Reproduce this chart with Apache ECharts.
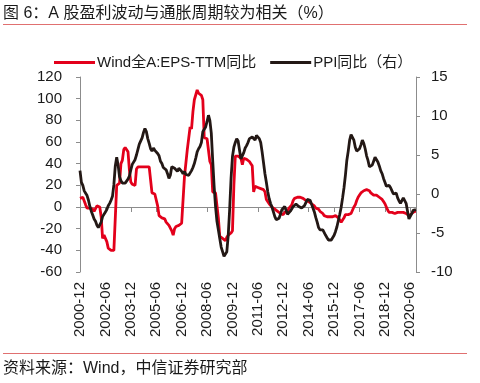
<!DOCTYPE html>
<html>
<head>
<meta charset="utf-8">
<script src="https://cdn.jsdelivr.net/npm/echarts@6/dist/echarts.min.js"></script>
<style>
html,body{margin:0;padding:0;background:#fff;}
#c{width:480px;height:383px;}
</style>
</head>
<body>
<div id="c"></div>
<script>
// Month categories: 2000-12 .. 2020-10
var startYear = 2000, startMonth = 12, monthCount = 239;
var months = [];
for (var k = 0; k < monthCount; k++) {
  var m = startMonth - 1 + k;
  var y = startYear + Math.floor(m / 12);
  var mm = (m % 12) + 1;
  months.push(y + '-' + (mm < 10 ? '0' + mm : '' + mm));
}

var seriesNames = ['Wind全A:EPS-TTM同比', 'PPI同比（右）'];

// Wind全A EPS-TTM 同比 (%), left axis
var epsYoY = [
  8, 8, 9, 10, 2, -1, -1, -1, -2, -2, -4, -4,
  1, 1, 0, -9, -29, -26, -26, -32, -38, -39, -40, -40,
  -40, -39, 20, 21, 22, 40, 43, 53, 55, 54, 51, 34,
  23, 21, 20, 20, 35, 37, 36, 37, 36, 37, 37, 37,
  36, 37, 37, 13, 12, 12, 11, 1, -8, -9, -10, -10,
  -11, -14, -15, -17, -18, -22, -26, -20, -18, -18, -17, -16,
  -15, -15, 28, 28, 53, 53, 74, 72, 88, 99, 100, 108,
  105, 104, 103, 99, 64, 63, 63, 62, 42, 39, 14, 14,
  13, 12, -10, -27, -28, -29, -30, -31, -28, -26, -25, -24,
  -22, 20, 47, 47, 47, 46, 45, 39, 45, 44, 44, 43,
  42, 40, 38, 14, 19, 19, 18, 18, 17, 17, 16, 14,
  7, 6, 3, 2, 0, -1, -2, -3, -4, -5, -6, -7,
  -7, -5, -4, -4, -1, -1, 2, 6, 8, 8, 9, 9,
  9, 8, 8, 7, 6, 6, 5, 5, 3, 2, 1, -1,
  -1, -2, -4, -5, -6, -8, -9, -9, -9, -9, -9, -9,
  -9, -8, -7, -10, -12, -14, -13, -10, -7, -7, -7, -6,
  -6, -3, 0, 2, 6, 9, 11, 13, 14, 15, 16, 16,
  16, 15, 13, 12, 11, 11, 11, 10, 9, 8, 7, 5,
  3, 0, -3, -5, -5, -5, -5, -6, -6, -5, -5, -5,
  -5, -5, -6, -6, -7, -8, -9, -6, -5, -4, -4
];

// PPI 同比 (%), right axis
var ppiYoY = [
  3.0, 1.5, 1.1, 0.4, 0.1, -0.2, -0.8, -1.6, -2.2, -2.7, -3.2, -3.5,
  -4.0, -4.3, -4.2, -3.6, -2.9, -2.7, -2.3, -2.0, -1.5, -1.2, -0.8, -0.3,
  1.2, 3.6, 4.7, 3.7, 2.2, 1.7, 1.4, 1.5, 1.4, 1.5, 1.9, 2.3,
  3.1, 3.8, 3.6, 4.4, 5.0, 5.7, 6.4, 6.6, 7.2, 7.9, 8.4, 8.0,
  7.1, 6.5, 5.8, 5.5, 5.9, 5.6, 5.6, 5.2, 4.9, 4.2, 3.9, 3.4,
  3.2, 3.1, 2.6, 2.0, 2.4, 3.5, 3.6, 3.3, 3.4, 2.9, 3.3, 3.1,
  2.9, 2.6, 2.9, 2.5, 2.4, 2.4, 2.6, 3.0, 3.4, 3.9, 4.6, 5.4,
  5.8, 6.1, 6.6, 8.0, 8.2, 8.6, 9.3, 10.1, 9.4, 7.8, 4.3, 1.0,
  -1.6, -3.5, -4.6, -5.7, -6.8, -7.4, -8.0, -8.2, -7.4, -5.3, -2.0, 2.0,
  4.8, 6.0, 6.6, 7.1, 6.8, 5.6, 4.5, 4.5, 5.3, 5.9, 6.2, 6.6,
  7.1, 7.3, 7.3, 7.1, 6.9, 7.5, 7.3, 7.1, 6.6, 5.4, 4.0, 2.6,
  1.5, 0.3, -0.6, -1.2, -1.7, -2.3, -2.9, -3.3, -3.5, -3.1, -2.6, -2.0,
  -1.8, -1.6, -1.8, -2.6, -2.5, -2.2, -2.0, -1.6, -1.4, -1.3, -1.5, -1.6,
  -1.7, -1.8, -2.0, -1.5, -1.1, -0.7, -0.6, -0.8, -1.3, -1.8, -2.3, -3.0,
  -3.6, -4.3, -4.6, -4.8, -4.6, -4.8, -5.3, -5.6, -5.9, -5.9, -5.9, -5.8,
  -5.3, -4.8, -4.2, -3.4, -2.6, -1.7, -0.5, 0.8, 2.4, 4.3, 5.5, 6.9,
  7.6, 7.8, 6.9, 6.0, 5.5, 5.6, 5.8, 6.3, 6.9, 6.5, 5.8, 4.9,
  4.3, 3.5, 3.4, 3.7, 4.2, 4.7, 4.6, 4.1, 3.6, 3.0, 2.6, 2.0,
  1.5, 1.0, 0.8, 1.1, 0.8, 0.4, 0.0, -0.2, 0.1, -0.5, -0.9, -1.2,
  -1.0, -0.5, -0.6, -1.2, -2.2, -3.2, -3.1, -2.5, -2.1, -2.0, -2.0
];

var leftTicks = {min: -60, max: 120, interval: 20};
var rightTicks = {min: -10, max: 15, interval: 5};
var labelEvery = 18;

var titleText = '图 6：A 股盈利波动与通胀周期较为相关（%）';
var sourceText = '资料来源：Wind，中信证券研究部';

var FONT = '"Liberation Sans", Arial, "Noto Sans CJK SC", sans-serif';
var axisGray = '#8c8c8c';
var red = '#e3001b';
var black = '#231815';

var chart = echarts.init(document.getElementById('c'), null, {renderer: 'canvas'});
chart.setOption({
  animation: false,
  backgroundColor: '#ffffff',
  textStyle: {fontFamily: FONT},
  graphic: [
    {type: 'text', left: 3, top: 6, style: {text: titleText, font: '16px ' + FONT, fill: '#1a1a1a'}},
    {type: 'rect', shape: {x: 3, y: 24, width: 464, height: 1}, style: {fill: '#e07070'}},
    {type: 'rect', shape: {x: 3, y: 353, width: 464, height: 1}, style: {fill: '#e07070'}},
    {type: 'text', left: 3, top: 361, style: {text: sourceText, font: '16px ' + FONT, fill: '#1a1a1a'}}
  ],
  legend: {
    left: 49, top: 50,
    itemWidth: 41, itemHeight: 3, itemGap: 14,
    icon: 'rect',
    textStyle: {fontSize: 15, color: '#1a1a1a', fontFamily: FONT, padding: [0, 0, 0, -3]},
    data: seriesNames
  },
  grid: {left: 80, right: 64, top: 77, bottom: 111, containLabel: false},
  xAxis: [
    {
      type: 'category', data: months, boundaryGap: false, position: 'bottom',
      axisLine: {show: false, onZero: false},
      axisTick: {show: false},
      axisLabel: {interval: labelEvery - 1, rotate: 90, fontSize: 15, color: '#1a1a1a', margin: 10, fontFamily: FONT},
      splitLine: {show: false}
    },
    {
      type: 'category', data: months, boundaryGap: false, position: 'bottom',
      axisLine: {show: true, onZero: true, onZeroAxisIndex: 0, lineStyle: {color: axisGray, width: 1}},
      axisTick: {show: true, interval: labelEvery - 1, length: 5, lineStyle: {color: axisGray}},
      axisLabel: {show: false},
      splitLine: {show: false}
    }
  ],
  yAxis: [
    {
      type: 'value', position: 'left', min: leftTicks.min, max: leftTicks.max, interval: leftTicks.interval,
      axisLine: {show: true, lineStyle: {color: axisGray}},
      axisTick: {show: true, length: 4, lineStyle: {color: axisGray}},
      axisLabel: {fontSize: 15, color: '#1a1a1a', margin: 18, fontFamily: FONT},
      splitLine: {show: false}
    },
    {
      type: 'value', position: 'right', min: rightTicks.min, max: rightTicks.max, interval: rightTicks.interval,
      axisLine: {show: true, lineStyle: {color: axisGray}},
      axisTick: {show: true, length: 4, lineStyle: {color: axisGray}},
      axisLabel: {fontSize: 15, color: '#1a1a1a', margin: 15, fontFamily: FONT},
      splitLine: {show: false}
    }
  ],
  series: [
    {
      name: seriesNames[0], type: 'line', xAxisIndex: 0, yAxisIndex: 0, data: epsYoY,
      showSymbol: false, symbol: 'none',
      lineStyle: {color: red, width: 2.8}, itemStyle: {color: red}, z: 2
    },
    {
      name: seriesNames[1], type: 'line', xAxisIndex: 0, yAxisIndex: 1, data: ppiYoY,
      showSymbol: false, symbol: 'none',
      lineStyle: {color: black, width: 2.8}, itemStyle: {color: black}, z: 3
    }
  ]
});
</script>
</body>
</html>
